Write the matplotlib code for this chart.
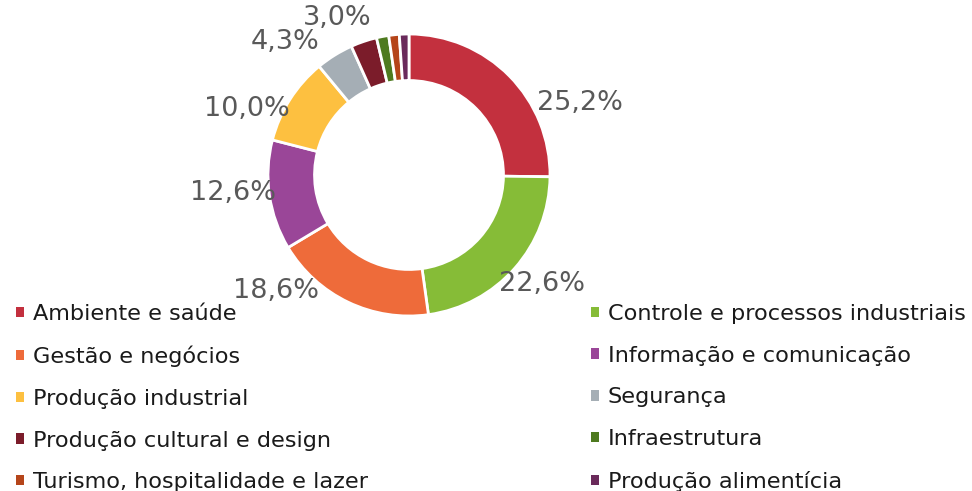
import matplotlib
matplotlib.use("Agg")
import matplotlib.pyplot as plt
from matplotlib.patches import Patch

categories = [
    "Ambiente e saúde",
    "Controle e processos industriais",
    "Gestão e negócios",
    "Informação e comunicação",
    "Produção industrial",
    "Segurança",
    "Produção cultural e design",
    "Infraestrutura",
    "Turismo, hospitalidade e lazer",
    "Produção alimentícia",
]
values = [25.2, 22.6, 18.6, 12.6, 10.0, 4.3, 3.0, 1.4, 1.2, 1.1]
labels = ["25,2%", "22,6%", "18,6%", "12,6%", "10,0%", "4,3%", "3,0%", "", "", ""]
colors = ["#C3303E", "#86BC37", "#EE6B3A", "#9A4698", "#FDC040",
          "#A5AEB5", "#7B1C2A", "#4E7A1F", "#B5451A", "#6A2A5B"]

# label positions (in units of outer radius, relative to center)
label_pos = [(1.21, 0.51), (0.94, -0.77), (-0.94, -0.82), (-1.25, -0.13),
             (-1.15, 0.47), (-0.88, 0.94), (-0.51, 1.11), None, None, None]

W, H = 972, 491
fig = plt.figure(figsize=(W / 100, H / 100), dpi=100)
ax = fig.add_axes([0, 0, 1, 1])

cx, cy, R = 409, 175, 141

ax.pie(values, colors=colors, startangle=90, counterclock=False, radius=1.0,
       wedgeprops=dict(width=0.33, edgecolor="white", linewidth=2.0))

for lab, pos in zip(labels, label_pos):
    if pos is None or not lab:
        continue
    ax.text(pos[0], pos[1], lab, ha="center", va="center", fontsize=19.5,
            color="#595959", family="DejaVu Sans")

ax.set_aspect("auto")
ax.set_xlim(-cx / R, (W - cx) / R)
ax.set_ylim(-(H - cy) / R, cy / R)
ax.axis("off")

handles = [Patch(facecolor=c, edgecolor="none") for c in colors]
left_idx = [0, 2, 4, 6, 8]
right_idx = [1, 3, 5, 7, 9]

common = dict(frameon=False, fontsize=16.1, handlelength=0.34, handleheight=0.34,
              handletextpad=0.4, labelspacing=0.97, borderpad=0, borderaxespad=0,
              labelcolor="#1a1a1a", loc="upper left")

leg1 = fig.legend([handles[i] for i in left_idx], [categories[i] for i in left_idx],
                  bbox_to_anchor=(16 / W, 1 - 304 / H), **common)
leg2 = fig.legend([handles[i] for i in right_idx], [categories[i] for i in right_idx],
                  bbox_to_anchor=(591 / W, 1 - 304 / H), **common)

fig.savefig("out.png", dpi=100, facecolor="white")
